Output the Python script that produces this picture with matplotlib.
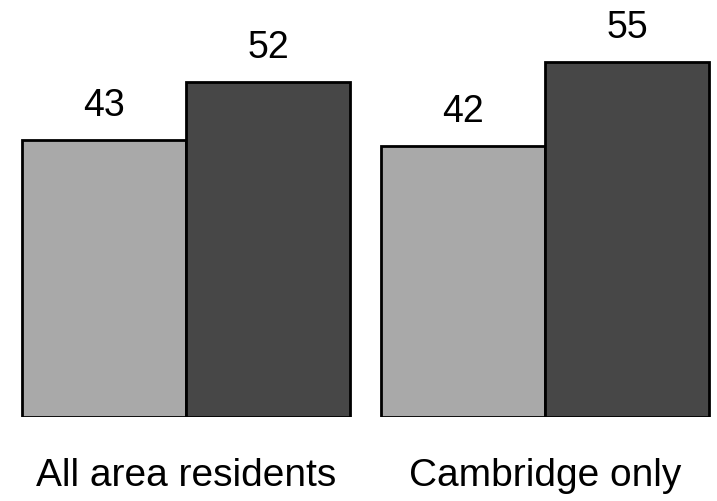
import numpy as np
import matplotlib.pyplot as plt

groups = ['All area residents', 'Cambridge only']
first_vals = [43, 42]
second_vals = [52, 55]

plt.rcParams['font.family'] = ['Liberation Sans', 'DejaVu Sans']

fig = plt.figure(figsize=(7.17, 5.02), dpi=100)
ax = fig.add_axes([0, 84 / 502, 1, 387 / 502])

x = np.array([0.0, 2.19])
w = 1.0
light = ax.bar(x - w / 2, first_vals, width=w, color='#a9a9a9',
               edgecolor='black', linewidth=2)
dark = ax.bar(x + w / 2, second_vals, width=w, color='#474747',
              edgecolor='black', linewidth=2)

# value labels above each bar
for bars, vals in [(light, first_vals), (dark, second_vals)]:
    for b, v in zip(bars, vals):
        ax.text(b.get_x() + b.get_width() / 2, v + 5.4, str(v),
                ha='center', va='center', fontsize=27)

for xi, name in zip(x, groups):
    ax.text(xi, -9.0, name, ha='center', va='center', fontsize=28)

ax.set_xlim(-186 / 164, 531 / 164)
ax.set_ylim(0, 60)
ax.axis('off')

fig.savefig('out.png', dpi=100)
